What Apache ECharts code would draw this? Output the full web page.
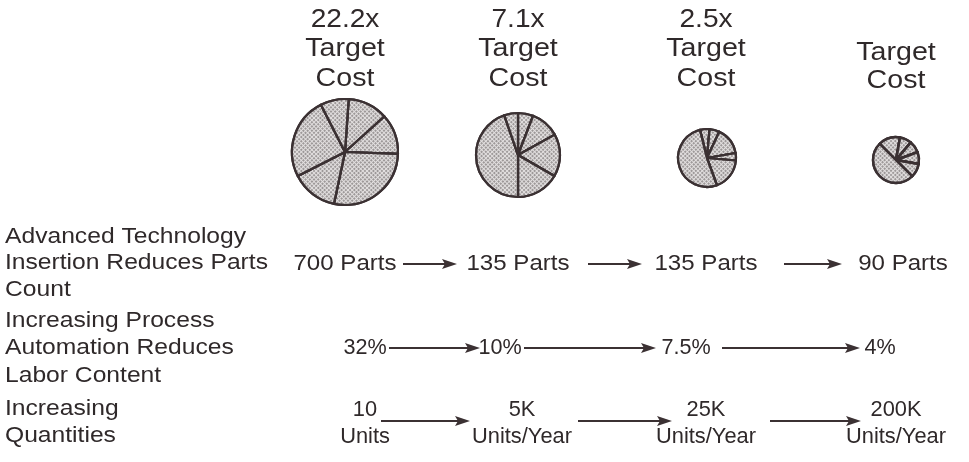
<!DOCTYPE html>
<html>
<head>
<meta charset="utf-8">
<script src="https://cdn.jsdelivr.net/npm/echarts@6/dist/echarts.min.js"></script>
<style>
html,body{margin:0;padding:0;background:#fff;}
#chart{width:969px;height:462px;}
</style>
</head>
<body>
<div id="chart"></div>
<script>
// ---- data ----
const costMultiples = ['22.2x', '7.1x', '2.5x', ''];
const costWords = ['Target', 'Cost'];
const pie1Slices = [44, 44, 100, 51, 90, 31];
const pie2Slices = [21, 40, 59, 60, 161, 19];
const pie3Slices = [19, 20, 55, 15, 65, 186];
const pie4Slices = [55, 30, 30, 30, 35, 180];
const partsCount = ['700 Parts', '135 Parts', '135 Parts', '90 Parts'];
const laborContent = ['32%', '10%', '7.5%', '4%'];
const quantities = ['10', '5K', '25K', '200K'];
const quantityUnits = ['Units', 'Units/Year', 'Units/Year', 'Units/Year'];
const rowLabels = [
  ['Advanced Technology', 'Insertion Reduces Parts', 'Count'],
  ['Increasing Process', 'Automation Reduces', 'Labor Content'],
  ['Increasing', 'Quantities']
];

// ---- layout ----
const FONT = '"Liberation Sans", Arial, Helvetica, sans-serif';
const INK = '#2f292a';
const LINE = '#3b3133';
const stageX = [345, 518, 706, 896];
const pieLayout = [
  {c: [345, 152], r: 53, start: 86, bw: 2.2},
  {c: [518, 155], r: 42, start: 90, bw: 2.2},
  {c: [707, 158], r: 29, start: 104, bw: 2.2},
  {c: [896, 160], r: 23, start: 135, bw: 2.4}
];
const pieData = [pie1Slices, pie2Slices, pie3Slices, pie4Slices];

const chart = echarts.init(document.getElementById('chart'), null, {renderer: 'canvas'});

const decal = {
  symbol: 'circle',
  symbolSize: 0.9,
  dashArrayX: [[2, 1]],
  dashArrayY: [2, 1],
  color: 'rgba(80,72,74,0.7)',
  rotation: 0.785
};

const series = pieData.map((vals, i) => ({
  type: 'pie',
  center: pieLayout[i].c,
  radius: [0, pieLayout[i].r],
  startAngle: pieLayout[i].start,
  clockwise: true,
  silent: true,
  animation: false,
  label: {show: false},
  labelLine: {show: false},
  itemStyle: {
    color: '#e3e0e0',
    borderColor: LINE,
    borderWidth: pieLayout[i].bw,
    decal: decal
  },
  emphasis: {disabled: true},
  data: vals.map(v => ({value: v}))
}));

const g = [];
function txt(x, y, s, size, align, sx) {
  g.push({
    type: 'text', x: x, y: y, scaleX: sx || 1.07, silent: true,
    style: {text: s, fill: INK, font: size + 'px ' + FONT,
      textAlign: align || 'center', textVerticalAlign: 'middle'}
  });
}
function arrow(x1, x2, y) {
  g.push({type: 'line', silent: true,
    shape: {x1: x1, y1: y, x2: x2 - 10, y2: y},
    style: {stroke: LINE, lineWidth: 2}});
  g.push({type: 'polygon', silent: true,
    shape: {points: [[x2, y], [x2 - 15, y - 5], [x2 - 12, y], [x2 - 15, y + 5]]},
    style: {fill: LINE}});
}

// titles
const titleY = [20, 49, 79];
costMultiples.forEach((m, i) => {
  if (m) {
    txt(stageX[i], titleY[0], m, 26, 'center', 1.08);
    txt(stageX[i], titleY[1], costWords[0], 26, 'center', 1.1);
    txt(stageX[i], titleY[2], costWords[1], 26, 'center', 1.1);
  } else {
    txt(stageX[i], 53, costWords[0], 26, 'center', 1.1);
    txt(stageX[i], 81, costWords[1], 26, 'center', 1.1);
  }
});

// left row labels
const labelY = [[237, 263, 290], [321, 348, 376], [409, 436]];
rowLabels.forEach((lines, r) => lines.forEach((s, k) => txt(5, labelY[r][k], s, 22, 'left', 1.12)));

// row 1: parts
const r1x = [345, 518, 706, 903];
partsCount.forEach((s, i) => txt(r1x[i], 264, s, 22.5));
arrow(403, 457, 264); arrow(588, 642, 264); arrow(784, 842, 264);

// row 2: labor
const r2x = [365, 500, 686, 880];
laborContent.forEach((s, i) => txt(r2x[i], 348, s, 22.5, 'center', 0.96));
arrow(389, 480, 348); arrow(524, 656, 348); arrow(722, 860, 348);

// row 3: quantities
const r3x = [365, 522, 706, 896];
quantities.forEach((s, i) => txt(r3x[i], 410, s, 22.5, 'center', 0.97));
quantityUnits.forEach((s, i) => txt(r3x[i], 437, s, 22.5, 'center', 0.97));
arrow(381, 470, 421); arrow(578, 672, 421); arrow(770, 861, 421);

chart.setOption({
  backgroundColor: '#ffffff',
  animation: false,
  series: series,
  graphic: {elements: g}
});
</script>
</body>
</html>
